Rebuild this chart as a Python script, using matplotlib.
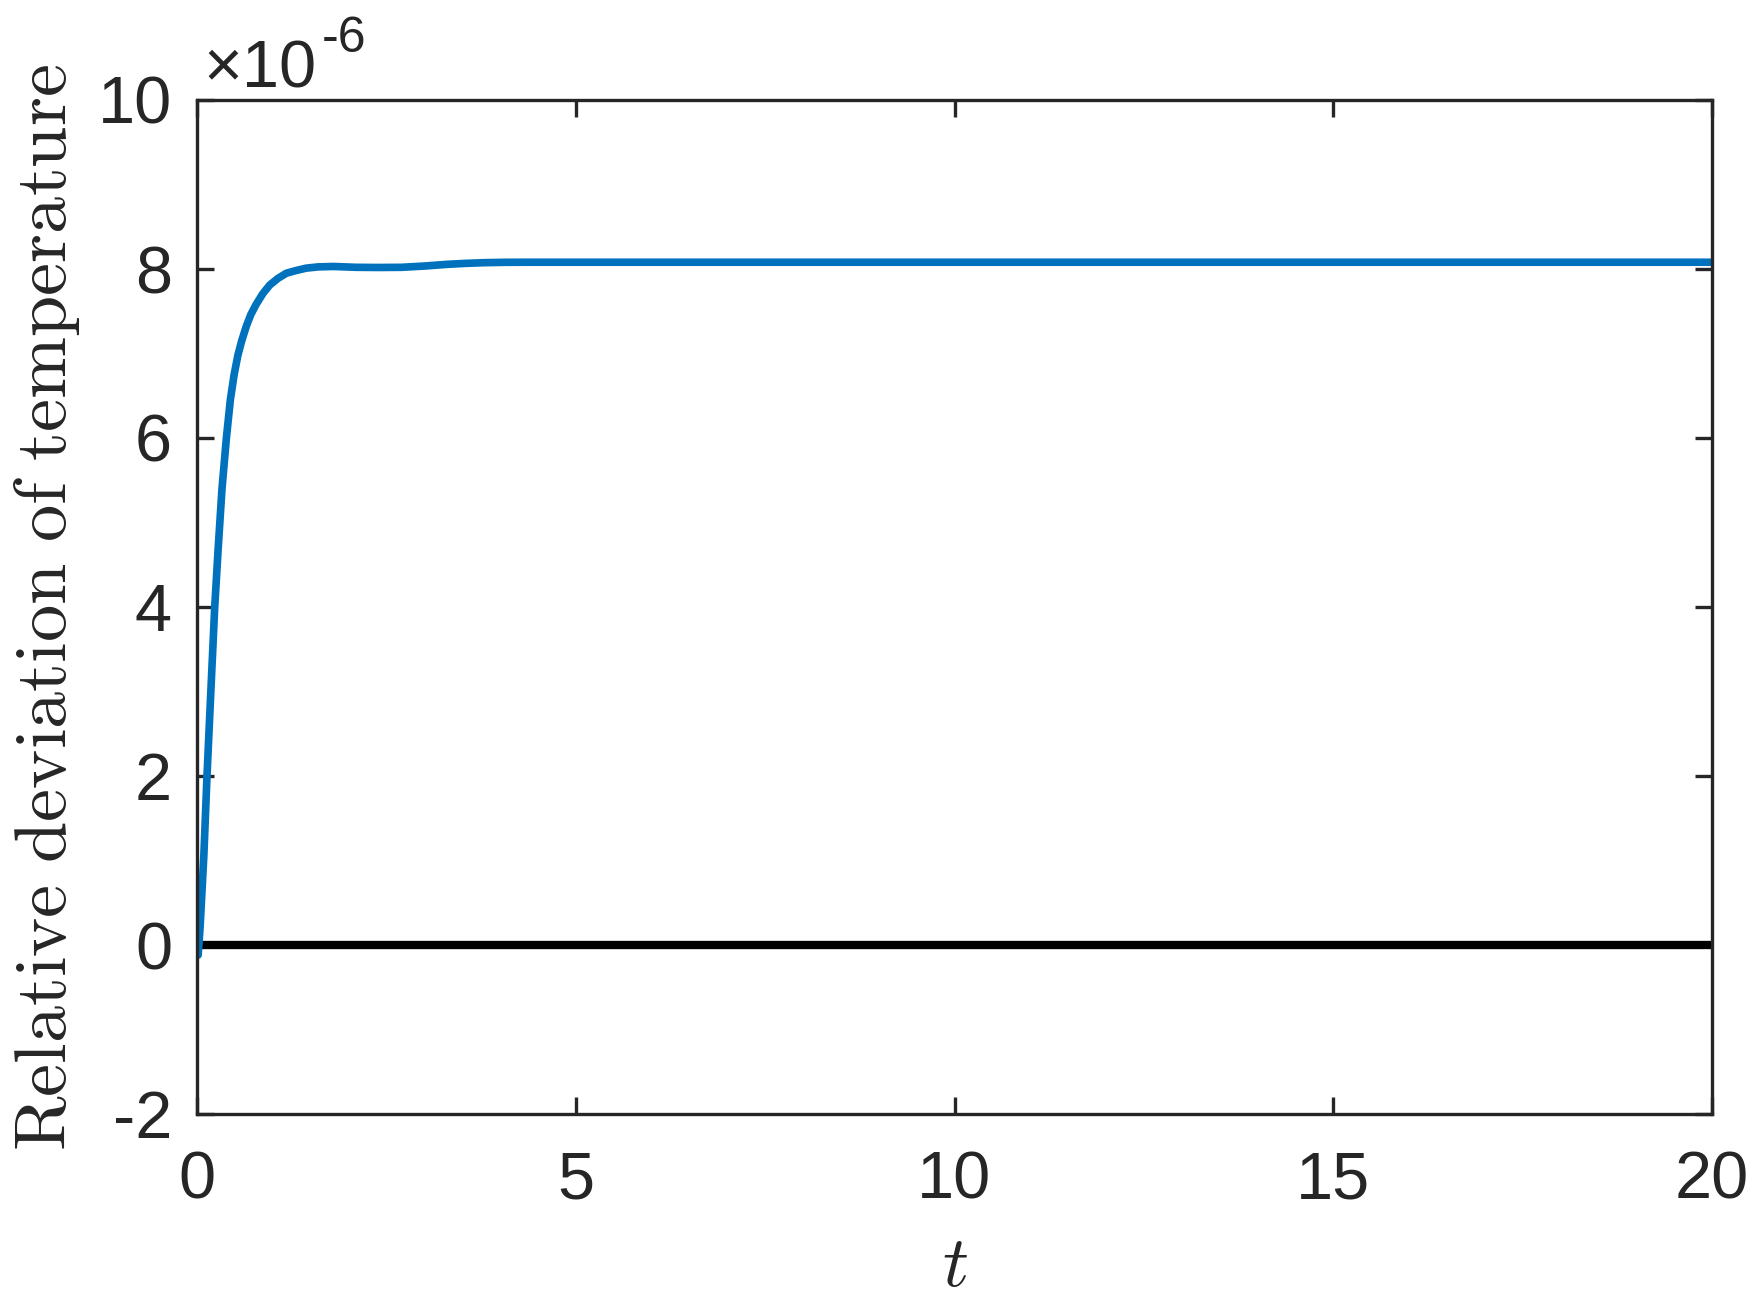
import numpy as np
import matplotlib
matplotlib.use('Agg')
from matplotlib import pyplot as plt

# values, y in units of 1e-6
t_vals = [0, 0.015, 0.04, 0.09, 0.132, 0.18, 0.234, 0.28, 0.33, 0.388, 0.44,
          0.49, 0.54, 0.59, 0.65, 0.71, 0.78, 0.87, 0.96, 1.07, 1.18, 1.30, 1.44,
          1.6, 1.8, 2.1, 2.4, 2.7, 3.0, 3.3, 3.55, 3.8, 4.05, 4.3, 10, 20]
dev_vals = [0, -0.12, 0.2, 1.05, 2.0, 2.95, 4.0, 4.7, 5.4, 6.0, 6.45,
            6.75, 6.98, 7.15, 7.32, 7.46, 7.58, 7.71, 7.81, 7.89, 7.95, 7.98, 8.01,
            8.025, 8.03, 8.02, 8.018, 8.02, 8.035, 8.055, 8.067, 8.075, 8.079, 8.08, 8.08, 8.08]
ref_t = [0, 20]
ref_vals = [0, 0]

x_ticks = [0, 5, 10, 15, 20]
y_ticks = [-2, 0, 2, 4, 6, 8, 10]

plt.rcParams['mathtext.fontset'] = 'cm'
plt.rcParams['font.family'] = ['Liberation Sans', 'DejaVu Sans']

W, H = 1750, 1313
fig = plt.figure(figsize=(W / 100, H / 100), dpi=100)
ax = fig.add_axes([197 / W, 1 - 1114 / H, (1712 - 197) / W, (1114 - 100) / H])

ax.plot(ref_t, ref_vals, color='k', lw=6, solid_capstyle='butt')
ax.plot(t_vals, dev_vals, color='#0072BD', lw=5.5, solid_joinstyle='round')

ax.set_xlim(0, 20)
ax.set_ylim(-2, 10)
ax.set_xticks(x_ticks)
ax.set_yticks(y_ticks)
ax.set_xticklabels([str(v) for v in x_ticks])
ax.set_yticklabels([str(v) for v in y_ticks])

gray = '#262626'
for s in ax.spines.values():
    s.set_color(gray)
    s.set_linewidth(2.4)
ax.tick_params(direction='in', length=12, width=2.4, color=gray,
               labelcolor=gray, labelsize=48, top=True, right=True)
ax.tick_params(axis='x', pad=26)
ax.tick_params(axis='y', pad=18)

ax.set_ylabel(r'$\mathrm{Relative\ deviation\ of\ temperature}$', fontsize=53.5,
              color=gray, labelpad=11)
ax.set_xlabel(r'$t$', fontsize=52, color=gray, labelpad=16)

# MATLAB style exponent label
fig.text(203 / W, 1 - 87 / H, '\u00d710', fontsize=48, color=gray, va='baseline')
fig.text(322 / W, 1 - 52 / H, '-6', fontsize=36, color=gray, va='baseline')

fig.savefig('out.png', dpi=100, facecolor='white')
